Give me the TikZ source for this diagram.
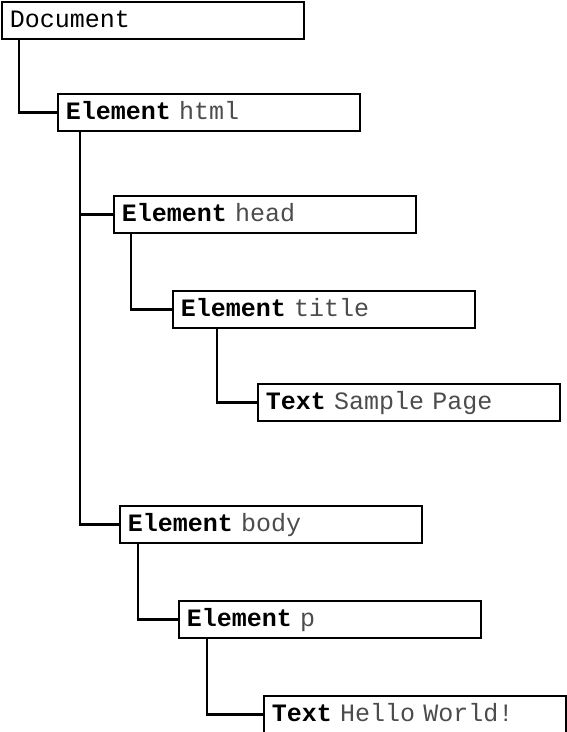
\documentclass[tikz,border=0pt]{standalone}
\usepackage{fontspec}
\setmonofont{Liberation Mono}
\tikzset{
	domnode/.style={draw,line width=1.6pt,minimum width=302pt,minimum height=37pt,anchor=north west,
		inner xsep=8pt,text width=286pt,align=left,text height=16pt,text depth=1pt,
		font=\ttfamily\fontsize{25}{25}\selectfont},
	branch/.style={line width=2.8pt}
}
\newcommand\domtext[2]{\textbf{#1} {\color{black!70}#2}}
\begin{document}
\begin{tikzpicture}[x=1pt,y=-1pt]
		\useasboundingbox (0,0) rectangle (566,732);
		\node[domnode] (doc) at (1,1) {Document};
		\node[domnode] (html) at (57,93) {\domtext{Element}{html}};
		\node[domnode] (head) at (113,195) {\domtext{Element}{head}};
		\node[domnode] (title) at (172,290) {\domtext{Element}{title}};
		\node[domnode] (sample) at (257,383) {\domtext{Text}{Sample Page}};
		\node[domnode] (body) at (119,505) {\domtext{Element}{body}};
		\node[domnode] (para) at (178,600) {\domtext{Element}{p}};
		\node[domnode] (hello) at (263,695) {\domtext{Text}{Hello World!}};
		\draw[branch] ([xshift=18pt]doc.south west) |- (html.west);
		\draw[branch] ([xshift=23pt]html.south west) |- (head.west);
		\draw[branch] ([xshift=23pt]html.south west) |- (body.west);
		\draw[branch] ([xshift=18pt]head.south west) |- (title.west);
		\draw[branch] ([xshift=45pt]title.south west) |- (sample.west);
		\draw[branch] ([xshift=19pt]body.south west) |- (para.west);
		\draw[branch] ([xshift=29pt]para.south west) |- (hello.west);
	\end{tikzpicture}
\end{document}
